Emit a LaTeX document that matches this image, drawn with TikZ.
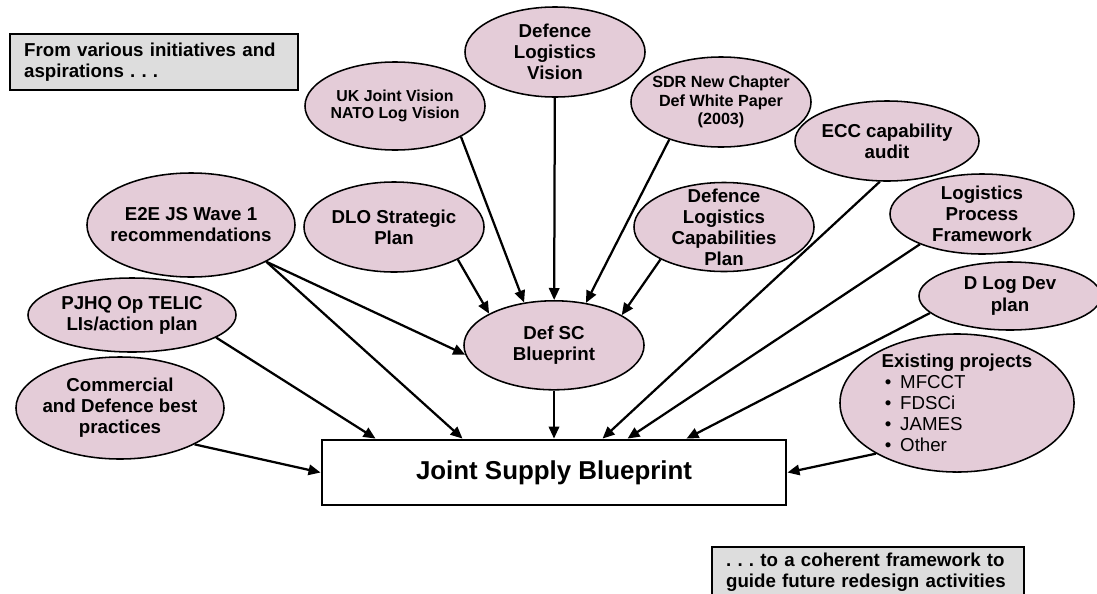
\documentclass[tikz,border=0pt]{standalone}
\usepackage{fontspec}
\setmainfont{Liberation Sans}
\usepackage{xcolor}
\usepackage{tikz}
\usetikzlibrary{arrows.meta,positioning,shapes.geometric,calc}

\definecolor{planpink}{RGB}{228,204,216}
\definecolor{notegray}{RGB}{221,221,221}

\tikzset{
  source/.style={ellipse, draw, line width=1.1pt, fill=planpink, inner sep=0pt},
  note/.style={draw, line width=1.6pt, fill=notegray, align=left, anchor=north west,
               inner xsep=0.35cm, font=\bfseries\fontsize{13.3}{15}\selectfont},
  feed/.style={line width=1.6pt, -{Triangle[length=0.3cm,width=0.26cm]}},
  every label/.style={align=center, inner sep=0pt, font=\bfseries\fontsize{13.3}{15}\selectfont}
}

\begin{document}
\frenchspacing
\begin{tikzpicture}[x=0.025cm,y=-0.025cm]
                \useasboundingbox (0,0) rectangle (1097,593);

                % notes
                \node [note, text width=6.5cm, minimum height=1.4cm]
                                        (from) at (9,33) {From various initiatives and\\aspirations . . .};
                \node [note, text width=7.1cm, minimum height=1.25cm]
                                        (toward) at (711,546) {. . . to a coherent framework to\\guide future redesign activities};

                % target
                \node [draw, line width=2pt, minimum width=11.6cm, minimum height=1.625cm,
                        font=\bfseries\fontsize{18.4}{22}\selectfont]
                                        (jsb) at (554,472.5) {Joint Supply Blueprint};
                \node [source, minimum width=4.5cm, minimum height=2.225cm,
                        above = 1.2cm of jsb,
                        label={center:{Def SC\\Blueprint}}] (defsc) {};

                % sources
                \node [source, minimum width=4.5cm, minimum height=2.25cm,
                        label={center:{Defence\\Logistics\\Vision}}] (dlv) at (555,52) {};
                \node [source, minimum width=4.5cm, minimum height=2.2cm,
                        label={[font=\bfseries\fontsize{11.3}{12.5}\selectfont]center:{UK Joint Vision\\NATO Log Vision}}]
                                        (ukjv) at (395,106) {};
                \node [source, minimum width=4.5cm, minimum height=2.25cm,
                        label={[font=\bfseries\fontsize{11.5}{13.3}\selectfont]center:{SDR New Chapter\\Def White Paper\\(2003)}}]
                                        (sdr) at (721,102) {};
                \node [source, minimum width=4.6cm, minimum height=2cm,
                        label={center:{ECC capability\\audit}}] (ecc) at (887,141) {};
                \node [source, minimum width=4.5cm, minimum height=2.225cm,
                        label={center:{Defence\\Logistics\\Capabilities\\Plan}}] (dlcp) at (724,227) {};
                \node [source, minimum width=4.6cm, minimum height=2cm,
                        label={center:{Logistics\\Process\\Framework}}] (lpf) at (982,214) {};
                \node [source, minimum width=4.55cm, minimum height=1.7cm,
                        label={center:{D Log Dev\\plan}}] (dld) at (1010,296) {};
                \node [source, minimum width=5.85cm, minimum height=3.45cm,
                        label={[align=left]center:{Existing projects\\
                          {\mdseries\hspace*{0.08cm}\textbullet\hspace{0.22cm}MFCCT}\\
                          {\mdseries\hspace*{0.08cm}\textbullet\hspace{0.22cm}FDSCi}\\
                          {\mdseries\hspace*{0.08cm}\textbullet\hspace{0.22cm}JAMES}\\
                          {\mdseries\hspace*{0.08cm}\textbullet\hspace{0.22cm}Other}}}]
                                        (exist) at (957,403) {};
                \node [source, minimum width=4.5cm, minimum height=2.25cm,
                        label={center:{DLO Strategic\\Plan}}] (dlo) at (394,227) {};
                \node [source, minimum width=5.2cm, minimum height=2.6cm,
                        label={center:{E2E JS Wave 1\\recommendations}}] (e2e) at (191,225) {};
                \node [source, minimum width=5.2cm, minimum height=1.85cm,
                        label={center:{PJHQ Op TELIC\\LIs/action plan}}] (pjhq) at (132,315) {};
                \node [source, minimum width=5.2cm, minimum height=2.55cm,
                        label={center:{Commercial\\and Defence best\\practices}}] (comm) at (120,408) {};

                % feeds into Def SC Blueprint
                \draw [feed] (e2e.-26) -- (defsc.186);
                \draw [feed] (dlo.-27) -- (defsc.154);
                \draw [feed] (ukjv.-25) -- (defsc.125);
                \draw [feed] (dlv) -- (defsc);
                \draw [feed] (sdr.-144) -- (defsc.53);
                \draw [feed] (dlcp.-153) -- (defsc.24);

                % feeds into Joint Supply Blueprint
                \draw [feed] (comm.-26) -- (jsb.west);
                \draw [feed] (pjhq.-15) -- ($(jsb.north west)+(55,0)$);
                \draw [feed] (e2e.-26) -- ($(jsb.north west)+(142,0)$);
                \draw [feed] (defsc) -- (jsb);
                \draw [feed] (ecc.-100) -- ($(jsb.north west)+(282,0)$);
                \draw [feed] (lpf.-154) -- ($(jsb.north west)+(307,0)$);
                \draw [feed] (dld.-168) -- ($(jsb.north west)+(366,0)$);
                \draw [feed] (exist.-148) -- (jsb.east);
            \end{tikzpicture}
\end{document}
